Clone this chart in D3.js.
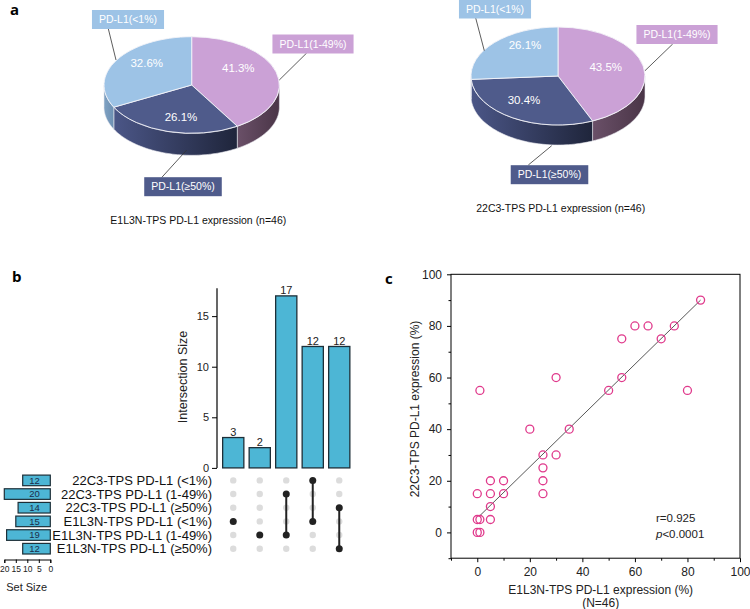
<!DOCTYPE html>
<html><head><meta charset="utf-8">
<script src="https://cdn.jsdelivr.net/npm/d3@7"></script>
<style>
body{margin:0;background:#fff;}
svg{display:block;font-family:"Liberation Sans",Arial,sans-serif;}
</style></head>
<body>
<svg id="chart" width="750" height="609"></svg>
<script>
// ---------- DATA ----------
const pieCategories = ["PD-L1(1-49%)", "PD-L1(≥50%)", "PD-L1(<1%)"];
const pie1Values = [41.3, 26.1, 32.6];
const pie2Values = [43.5, 30.4, 26.1];
const pie1Title = "E1L3N-TPS PD-L1 expression (n=46)";
const pie2Title = "22C3-TPS PD-L1 expression (n=46)";

const setNames = ["22C3-TPS PD-L1 (<1%)", "22C3-TPS PD-L1 (1-49%)", "22C3-TPS PD-L1 (≥50%)",
                  "E1L3N-TPS PD-L1 (<1%)", "E1L3N-TPS PD-L1 (1-49%)", "E1L3N-TPS PD-L1 (≥50%)"];
const setSizes = [12, 20, 14, 15, 19, 12];
const intersectionSizes = [3, 2, 17, 12, 12];
const intersectionMembers = [[3], [4], [1, 4], [0, 3], [2, 5]];
const intersectionTicks = [0, 5, 10, 15];
const setSizeTicks = [0, 5, 10, 15, 20];

const scatterX = [85, 60, 65, 75, 55, 70, 30, 55, 1, 50, 80, 20, 35, 25, 30, 25, 5, 10, 25, 0, 5, 10, 25, 5, 0, 1, 5, 0, 1];
const scatterY = [90, 80, 80, 80, 75, 75, 60, 60, 55, 55, 55, 40, 40, 30, 30, 25, 20, 20, 20, 15, 15, 15, 15, 10, 5, 5, 5, 0, 0];
const fitLineX = [0.8, 85];
const fitLineY = [6.3, 90];
const scatterTicks = [0, 20, 40, 60, 80, 100];
const scatterMinorTicks = [-10, 10, 30, 50, 70, 90];

// ---------- STYLE ----------
const font = '"Liberation Sans",Arial,sans-serif';
const topColors = ["#cba1d6", "#4f5b8b", "#9dc3e6"];
const sideLeft = ["#6a5068", "#4b5687", "#7fa2c3"];
const sideRight = ["#4a3547", "#1f253b", "#6d8fb2"];

const svg = d3.select("#chart");
const defs = svg.append("defs");
topColors.forEach((c, i) => {
  const g = defs.append("linearGradient").attr("id", "side" + i)
    .attr("x1", "0").attr("x2", "1").attr("y1", "0").attr("y2", "0");
  g.append("stop").attr("offset", "0").attr("stop-color", sideLeft[i]);
  g.append("stop").attr("offset", "1").attr("stop-color", sideRight[i]);
});

// ---------- PANEL LETTERS ----------
[["a", 10, 15], ["b", 12, 282], ["c", 385, 284]].forEach(([t, x, y]) =>
  svg.append("text").attr("x", x).attr("y", y).attr("font-size", 15).attr("font-weight", "bold")
    .attr("font-family", "'Open Sans',sans-serif").text(t));

// ---------- 3D PIES ----------
function drawPie(values, title, L) {
  const g = svg.append("g").attr("transform", `translate(${L.cx},${L.cy})`);
  const arcs = d3.pie().sort(null).value(d => d)(values);
  const pt = (a, dy) => [L.rx * Math.sin(a), -L.ry * Math.cos(a) + dy];
  const line = d3.line();
  // side walls
  arcs.forEach((a, i) => {
    const s = Math.max(a.startAngle, Math.PI / 2), e = Math.min(a.endAngle, 3 * Math.PI / 2);
    if (s >= e) return;
    const angs = d3.range(0, 61).map(k => s + (e - s) * k / 60);
    const pts = angs.map(t => pt(t, 0)).concat(angs.slice().reverse().map(t => pt(t, L.depth)));
    g.append("path").attr("d", line(pts) + "Z").attr("fill", `url(#side${i})`)
      .attr("stroke", "#e8e8ee").attr("stroke-width", 0.6);
  });
  // top faces
  const top = g.append("g").attr("transform", `scale(1,${L.ry / L.rx})`);
  const arc = d3.arc().innerRadius(0).outerRadius(L.rx);
  arcs.forEach((a, i) => {
    top.append("path").attr("d", arc(a)).attr("fill", topColors[i])
      .attr("stroke", "#f4f4f8").attr("stroke-width", 0.9).attr("vector-effect", "non-scaling-stroke");
  });
  // percent labels
  arcs.forEach((a, i) => {
    svg.append("text").attr("x", L.pct[i][0]).attr("y", L.pct[i][1]).attr("dy", "0.35em")
      .attr("text-anchor", "middle").attr("fill", "#fff").attr("font-size", 11.5)
      .text(values[i].toFixed(1) + "%");
  });
  // leader lines + label boxes
  pieCategories.forEach((c, i) => {
    const b = L.box[i];
    svg.append("line").attr("x1", L.lead[i][0]).attr("y1", L.lead[i][1])
      .attr("x2", L.lead[i][2]).attr("y2", L.lead[i][3]).attr("stroke", "#333").attr("stroke-width", 0.8);
    const t = svg.append("text").attr("x", b[0]).attr("y", b[1]).attr("dy", "0.35em")
      .attr("text-anchor", "middle").attr("fill", "#fff").attr("font-size", 10.5).text(c);
    const w = t.node().getComputedTextLength() + 14;
    svg.insert("rect", () => t.node()).attr("x", b[0] - w / 2).attr("y", b[1] - 9.5)
      .attr("width", w).attr("height", 19).attr("fill", topColors[i]);
  });
  svg.append("text").attr("x", L.title[0]).attr("y", L.title[1]).attr("text-anchor", "middle")
    .attr("font-size", 10.5).attr("fill", "#111").text(title);
}

drawPie(pie1Values, pie1Title, {
  cx: 191.7, cy: 85, rx: 87.7, ry: 48.3, depth: 22,
  pct: [[238.3, 68.3], [181, 117.3], [146.7, 63.3]],
  box: [[313, 44], [183, 186.7], [128, 19.5]],
  lead: [[306.7, 53, 279.3, 80], [161.7, 177.5, 186.7, 150], [108, 27.5, 116, 60]],
  title: [198.3, 224]
});
drawPie(pie2Values, pie2Title, {
  cx: 558, cy: 76, rx: 87, ry: 49, depth: 20,
  pct: [[605.7, 67.3], [524, 100], [525, 45]],
  box: [[677, 34.5], [549.5, 174.7], [495, 9]],
  lead: [[672.7, 44, 645, 70.7], [528.3, 165, 551.7, 145.7], [475.7, 18, 484.3, 50.7]],
  title: [560.7, 212]
});

// ---------- UPSET PLOT ----------
const ub = svg.append("g");
const xb = d3.scaleBand().domain(d3.range(intersectionSizes.length)).range([220, 352.5])
  .paddingInner(0.2).paddingOuter(0.1);
const yb = d3.scaleLinear().domain([0, 17.75]).range([467.9, 288.3]);
const rowY = d3.scalePoint().domain(d3.range(setNames.length)).range([480.4, 548.7]);
const xs = d3.scaleLinear().domain([0, 20]).range([50.3, 4.3]);

ub.selectAll("rect.ib").data(intersectionSizes).join("rect")
  .attr("x", (d, i) => xb(i)).attr("width", xb.bandwidth())
  .attr("y", d => yb(d)).attr("height", d => yb(0) - yb(d))
  .attr("fill", "#4db6d5").attr("stroke", "#1d2f38").attr("stroke-width", 1.3);
ub.selectAll("text.ib").data(intersectionSizes).join("text")
  .attr("x", (d, i) => xb(i) + xb.bandwidth() / 2).attr("y", d => yb(d) - 1.5)
  .attr("text-anchor", "middle").attr("font-size", 11).attr("fill", "#222").text(d => d);

const yAx = ub.append("g").attr("transform", "translate(217,0)")
  .call(d3.axisLeft(yb).tickValues(intersectionTicks).tickSize(5).tickPadding(3));
yAx.select(".domain").attr("d", `M0,${yb(17.75)}V${yb(0)}`).attr("stroke", "#000").attr("stroke-width", 1.2);
yAx.selectAll("text").attr("font-size", 11).attr("font-family", font).attr("fill", "#222");
yAx.selectAll("line").attr("stroke", "#000");
ub.append("text").attr("transform", "translate(187,377) rotate(-90)").attr("text-anchor", "middle")
  .attr("font-size", 12.5).attr("fill", "#222").text("Intersection Size");

// matrix
ub.selectAll("text.rl").data(setNames).join("text")
  .attr("x", 212).attr("y", (d, i) => rowY(i)).attr("dy", "0.35em").attr("text-anchor", "end")
  .attr("font-size", 13).attr("fill", "#111").text(d => d);
intersectionSizes.forEach((s, j) => {
  const cx = xb(j) + xb.bandwidth() / 2;
  setNames.forEach((n, i) => {
    if (!intersectionMembers[j].includes(i))
      ub.append("circle").attr("cx", cx).attr("cy", rowY(i)).attr("r", 3.2).attr("fill", "#dcdcdc");
  });
  const m = intersectionMembers[j];
  if (m.length > 1)
    ub.append("line").attr("x1", cx).attr("x2", cx).attr("y1", rowY(d3.min(m))).attr("y2", rowY(d3.max(m)))
      .attr("stroke", "#222").attr("stroke-width", 2);
  m.forEach(i => ub.append("circle").attr("cx", cx).attr("cy", rowY(i)).attr("r", 3.5).attr("fill", "#222"));
});

// set size bars
ub.selectAll("rect.ss").data(setSizes).join("rect")
  .attr("x", d => xs(d)).attr("width", d => xs(0) - xs(d))
  .attr("y", (d, i) => rowY(i) - 5.3).attr("height", 10.6)
  .attr("fill", "#4db6d5").attr("stroke", "#1d2f38").attr("stroke-width", 1.2);
ub.selectAll("text.ss").data(setSizes).join("text")
  .attr("x", 34.5).attr("y", (d, i) => rowY(i)).attr("dy", "0.36em").attr("text-anchor", "middle")
  .attr("font-size", 9.5).attr("fill", "#1c2d4a").text(d => d);
const sAx = ub.append("g").attr("transform", "translate(0,559.5)")
  .call(d3.axisBottom(xs).tickValues(setSizeTicks).tickSize(3.5).tickPadding(2.5));
sAx.selectAll("text").attr("font-size", 8.5).attr("font-family", font).attr("fill", "#222");
sAx.select(".domain").attr("stroke", "#000");
ub.append("text").attr("x", 26.7).attr("y", 590.5).attr("text-anchor", "middle")
  .attr("font-size", 11).attr("fill", "#222").text("Set Size");

// ---------- SCATTER ----------
const sc = svg.append("g");
const sx = d3.scaleLinear().domain([-10, 100]).range([451, 740]);
const sy = d3.scaleLinear().domain([-10, 100]).range([558.2, 274.3]);
sc.append("rect").attr("x", sx(-10)).attr("y", sy(100)).attr("width", sx(100) - sx(-10))
  .attr("height", sy(-10) - sy(100)).attr("fill", "none").attr("stroke", "#000").attr("stroke-width", 1);
const xAxG = sc.append("g").attr("transform", `translate(0,${sy(-10)})`)
  .call(d3.axisBottom(sx).tickValues(scatterTicks).tickSize(4).tickPadding(5));
const xMin = sc.append("g").attr("transform", `translate(0,${sy(-10)})`)
  .call(d3.axisBottom(sx).tickValues(scatterMinorTicks).tickSize(2.5).tickFormat(""));
const yAxG = sc.append("g").attr("transform", `translate(${sx(-10)},0)`)
  .call(d3.axisLeft(sy).tickValues(scatterTicks).tickSize(4).tickPadding(5));
const yMin = sc.append("g").attr("transform", `translate(${sx(-10)},0)`)
  .call(d3.axisLeft(sy).tickValues(scatterMinorTicks).tickSize(2.5).tickFormat(""));
[xAxG, xMin, yAxG, yMin].forEach(a => {
  a.select(".domain").remove();
  a.selectAll("text").attr("font-size", 12).attr("font-family", font).attr("fill", "#222");
  a.selectAll("line").attr("stroke", "#000");
});
sc.append("line").attr("x1", sx(fitLineX[0])).attr("y1", sy(fitLineY[0]))
  .attr("x2", sx(fitLineX[1])).attr("y2", sy(fitLineY[1])).attr("stroke", "#444").attr("stroke-width", 0.9);
sc.selectAll("circle").data(scatterX).join("circle")
  .attr("cx", d => sx(d)).attr("cy", (d, i) => sy(scatterY[i])).attr("r", 4)
  .attr("fill", "none").attr("stroke", "#e03a8c").attr("stroke-width", 1.3);
sc.append("text").attr("x", 656).attr("y", 522).attr("font-size", 11.5).attr("fill", "#222").text("r=0.925");
const pt = sc.append("text").attr("x", 656).attr("y", 538).attr("font-size", 11.5).attr("fill", "#222");
pt.append("tspan").attr("font-style", "italic").text("p");
pt.append("tspan").text("<0.0001");
sc.append("text").attr("transform", "translate(419,409) rotate(-90)").attr("text-anchor", "middle")
  .attr("font-size", 12).attr("fill", "#222").text("22C3-TPS PD-L1 expression (%)");
sc.append("text").attr("x", 600.7).attr("y", 594).attr("text-anchor", "middle")
  .attr("font-size", 12).attr("fill", "#222").text("E1L3N-TPS PD-L1 expression (%)");
sc.append("text").attr("x", 600.7).attr("y", 606.5).attr("text-anchor", "middle")
  .attr("font-size", 12).attr("fill", "#222").text("(N=46)");
</script>
</body></html>
